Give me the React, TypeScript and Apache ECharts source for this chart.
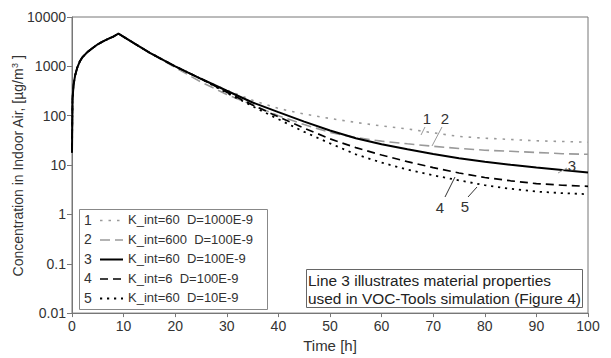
import React, { useEffect, useRef } from "react";
import * as echarts from "echarts";

const times = [0, 0.1, 0.3, 0.6, 1, 1.5, 2, 3, 4, 5, 6, 7, 8, 9, 12, 15, 20, 25, 30, 35, 40, 45, 50, 55, 60, 65, 70, 75, 80, 85, 90, 95, 100];
const rise = [18, 220, 420, 650, 930, 1250, 1520, 1950, 2350, 2800, 3200, 3600, 4000, 4600, 2950, 1900];
const line1Tail = [1000, 560, 330, 205, 140, 108, 88, 73, 62, 54, 45, 38, 35, 33, 31, 30, 29];
const line2Tail = [950, 480, 270, 165, 100, 66, 46, 36, 30.5, 27, 24, 21.7, 20, 19, 18, 17, 16.5];
const line3Tail = [1000, 560, 320, 185, 118, 76, 50, 35, 26.5, 20.8, 16.7, 13.8, 11.7, 10.1, 8.9, 7.9, 7.1];
const line4Tail = [1000, 560, 300, 165, 95, 56, 34, 22.5, 16, 11.7, 8.9, 6.9, 5.6, 4.8, 4.2, 3.9, 3.7];
const line5Tail = [1000, 560, 290, 155, 85, 47, 27.5, 16.5, 11.2, 8.1, 6.2, 4.9, 3.9, 3.3, 2.9, 2.7, 2.56];

const legendNums = ["1", "2", "3", "4", "5"];
const legendTexts = [
  "K_int=60  D=1000E-9",
  "K_int=600  D=100E-9",
  "K_int=60  D=100E-9",
  "K_int=6  D=100E-9",
  "K_int=60  D=10E-9",
];
const yTicks = ["0.01", "0.1", "1", "10", "100", "1000", "10000"];
const noteLines = ["Line 3 illustrates material properties", "used in VOC-Tools simulation (Figure 4)"];
const yTitle = "{a|Concentration in Indoor Air, [µg/m}{s|3}{a| ]}";

const FONT = "'Liberation Sans', Arial, sans-serif";
const GRAY = "#9a9a9a";

const styles = [
  { color: GRAY, width: 1.6, type: [2.5, 6] as any },
  { color: GRAY, width: 1.6, type: [10, 5] as any },
  { color: "#000", width: 2, type: "solid" as any },
  { color: "#000", width: 1.7, type: [8, 5] as any },
  { color: "#000", width: 1.8, type: [2.2, 4.8] as any },
];

function build(tail: number[]) {
  const vals = rise.concat(tail);
  return times.map((t, i) => [t, vals[i]]);
}

export default function App() {
  const ref = useRef<HTMLDivElement>(null);
  useEffect(() => {
    if (!ref.current) return;
    const chart = echarts.init(ref.current, undefined, { renderer: "svg" });
    const tails = [line1Tail, line2Tail, line3Tail, line4Tail, line5Tail];
    const order = [0, 1, 4, 3, 2];
    const series = order.map((k) => ({
      type: "line",
      name: legendNums[k],
      data: build(tails[k]),
      showSymbol: false,
      symbol: "none",
      smooth: false,
      lineStyle: { color: styles[k].color, width: styles[k].width, type: styles[k].type },
      z: 2 + k,
    }));

    const graphic: any[] = [];
    // y axis title
    graphic.push({
      type: "text",
      x: 18,
      y: 166,
      rotation: Math.PI / 2,
      style: {
        text: yTitle,
        align: "center",
        verticalAlign: "middle",
        rich: {
          a: { fontFamily: FONT, fontSize: 14, fill: "#333", lineHeight: 16 },
          s: { fontFamily: FONT, fontSize: 9, fill: "#333", lineHeight: 10, verticalAlign: "top" },
        },
      },
      z: 11,
    });
    // legend box
    graphic.push({
      type: "rect",
      shape: { x: 79.5, y: 209.5, width: 188, height: 100 },
      style: { fill: "#fff", stroke: "#888", lineWidth: 1 },
      z: 10,
    });
    const rowY = [219.5, 239, 258.5, 278, 297.5];
    legendNums.forEach((n, i) => {
      graphic.push({
        type: "text",
        x: 88,
        y: rowY[i],
        style: { text: n, font: `14px ${FONT}`, fill: "#333", align: "center", verticalAlign: "middle" },
        z: 11,
      });
      graphic.push({
        type: "line",
        shape: { x1: 100, y1: rowY[i] + 1, x2: 123, y2: rowY[i] + 1 },
        style: {
          stroke: styles[i].color,
          lineWidth: styles[i].width,
          lineDash: styles[i].type === "solid" ? null : styles[i].type,
        },
        z: 11,
      });
      graphic.push({
        type: "text",
        x: 128,
        y: rowY[i],
        style: { text: legendTexts[i], font: `13px ${FONT}`, fill: "#333", align: "left", verticalAlign: "middle" },
        z: 11,
      });
    });
    // note box
    graphic.push({
      type: "rect",
      shape: { x: 306.5, y: 269.5, width: 276, height: 38 },
      style: { fill: "#fff", stroke: "#666", lineWidth: 1 },
      z: 10,
    });
    noteLines.forEach((t, i) => {
      graphic.push({
        type: "text",
        x: 308,
        y: 280 + i * 18,
        style: { text: t, font: `15.4px ${FONT}`, fill: "#222", align: "left", verticalAlign: "middle" },
        z: 11,
      });
    });
    // curve labels with leaders
    const labels = [
      { t: "1", x: 427, y: 118, l: [425, 127, 421, 135], c: GRAY },
      { t: "2", x: 445, y: 118, l: [442, 127, 432, 146], c: GRAY },
      { t: "3", x: 572, y: 165, l: [567, 168, 558, 173], c: GRAY },
      { t: "4", x: 440, y: 207, l: [445, 197, 455, 177], c: "#333" },
      { t: "5", x: 465, y: 206, l: [468, 197, 477, 187], c: "#333" },
    ];
    labels.forEach((o) => {
      graphic.push({
        type: "text",
        x: o.x,
        y: o.y,
        style: { text: o.t, font: `15px ${FONT}`, fill: "#333", align: "center", verticalAlign: "middle" },
        z: 11,
      });
      graphic.push({
        type: "line",
        shape: { x1: o.l[0], y1: o.l[1], x2: o.l[2], y2: o.l[3] },
        style: { stroke: o.c, lineWidth: 1 },
        z: 11,
      });
    });

    chart.setOption({
      animation: false,
      backgroundColor: "#fff",
      grid: { left: 72, right: 23, top: 17, bottom: 40, show: true, borderColor: "#777", borderWidth: 1, backgroundColor: "transparent" },
      xAxis: {
        type: "value",
        min: 0,
        max: 100,
        interval: 10,
        name: "Time [h]",
        nameLocation: "middle",
        nameGap: 20,
        nameTextStyle: { fontFamily: FONT, fontSize: 15, color: "#333" },
        axisLine: { lineStyle: { color: "#777" } },
        axisTick: { show: true, length: 4, lineStyle: { color: "#777" } },
        axisLabel: { fontFamily: FONT, fontSize: 14, color: "#333", margin: 6 },
        splitLine: { show: false },
      },
      yAxis: {
        type: "log",
        logBase: 10,
        min: 0.01,
        max: 10000,
        axisLine: { show: true, lineStyle: { color: "#777" } },
        axisTick: { show: true, length: 5, lineStyle: { color: "#777" } },
        axisLabel: {
          fontFamily: FONT,
          fontSize: 14,
          color: "#333",
          margin: 6,
          formatter: (v: number) => {
            const idx = Math.round(Math.log10(v)) + 2;
            return yTicks[idx] ?? String(v);
          },
        },
        splitLine: { show: false },
      },
      series,
      graphic,
    });
    return () => chart.dispose();
  }, []);
  return (
    <div
      ref={ref}
      style={{ position: "fixed", left: 0, top: 0, width: 611, height: 358, background: "#fff" }}
    />
  );
}
